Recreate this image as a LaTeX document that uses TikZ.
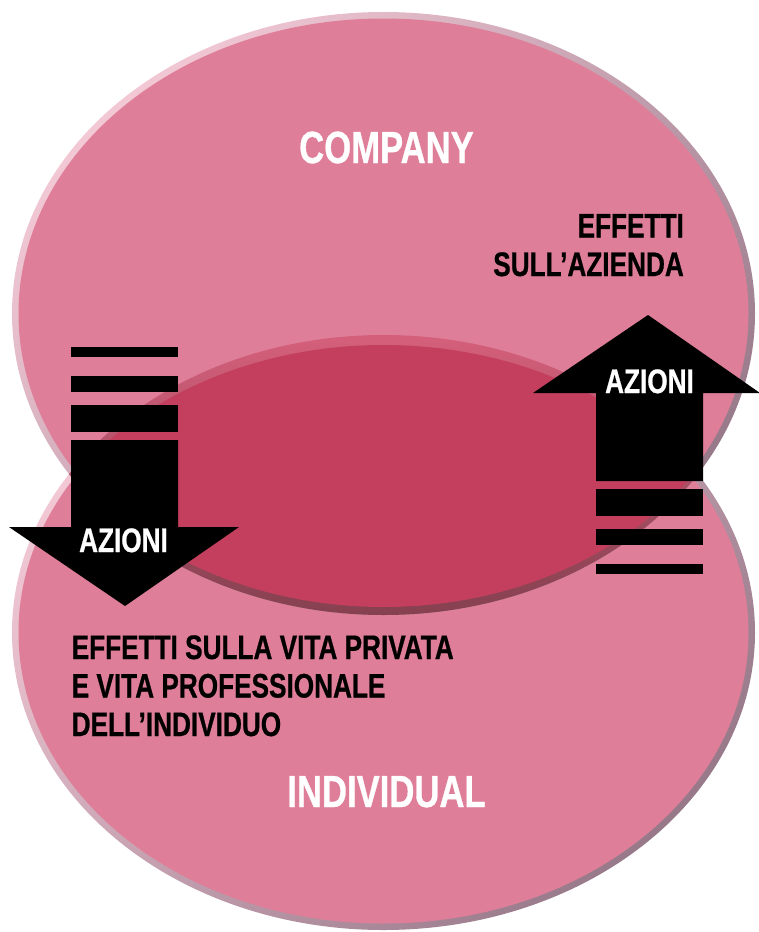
\documentclass[tikz,border=0pt]{standalone}
\usepackage{fontspec}
\setmainfont{Liberation Sans}[FakeStretch=0.77, BoldFeatures={FakeBold=0.7}]
\usepackage{tikz}
\usetikzlibrary{positioning}

\definecolor{Rose}{HTML}{DF7E99}
\definecolor{Wine}{HTML}{C43F5D}
\definecolor{RimLight}{HTML}{F2C8D5}
\definecolor{RimDark}{HTML}{97798A}
\definecolor{LensLight}{HTML}{D6607C}
\definecolor{LensDark}{HTML}{84404F}

\begin{document}
\begin{tikzpicture}[x=1pt,y=-1pt]
			\tikzstyle{Title}	= [white, font=\bfseries\fontsize{45}{50}\selectfont, inner sep=0pt, anchor=base]
			\tikzstyle{Effect}	= [black, font=\bfseries\fontsize{34}{38.5}\selectfont, inner sep=0pt]
			\tikzstyle{Action}	= [white, font=\bfseries\fontsize{34}{38}\selectfont, inner sep=0pt, anchor=base]
			\tikzstyle{Rim}		= [top color=RimLight, middle color=Rose, bottom color=RimDark, shading angle=45]
			\tikzstyle{Bar}		= [fill=black]

			\useasboundingbox (0,0) rectangle (758,932);

			% individual (bottom) and company (top)
			\shade[Rim] (383.5,632.5) ellipse [x radius=371.5, y radius=297.5];
			\fill[Rose] (383.5,632.5) ellipse [x radius=365, y radius=291];
			\shade[Rim] (383.5,313.5) ellipse [x radius=371.5, y radius=301.5];
			\fill[Rose] (383.5,313.5) ellipse [x radius=365, y radius=295];

			% overlap
			\begin{scope}
				\clip (383.5,313.5) ellipse [x radius=371.5, y radius=301.5];
				\clip (383.5,632.5) ellipse [x radius=371.5, y radius=297.5];
				\shade[top color=LensLight, bottom color=LensDark] (0,330) rectangle (758,620);
			\end{scope}
			\begin{scope}
				\clip (383.5,309.5) ellipse [x radius=371.5, y radius=297.5];
				\clip (383.5,637.5) ellipse [x radius=371.5, y radius=292.5];
				\fill[Wine] (0,330) rectangle (758,620);
			\end{scope}

			% arrows
			\fill (71,440) -- (178,440) -- (178,527) -- (239,527) -- (125,606) -- (9,527) -- (71,527) -- cycle;
			\foreach \a/\b in {347/357, 376/392, 405/432}
				\fill[Bar] (71,\a) rectangle (178,\b);
			\fill (596,481) -- (596,393) -- (533,393) -- (648,315) -- (760,393) -- (703,393) -- (703,481) -- cycle;
			\foreach \a/\b in {489/516, 529/545, 564/574}
				\fill[Bar] (596,\a) rectangle (703,\b);

			\node (company) at (386.5,163) [Title] {COMPANY};
			\node (individual) at (386.5,807) [Title] {INDIVIDUAL};
			\node (effAzienda) at (684,276) [Effect, anchor=base east, align=right] {EFFETTI\\SULL’AZIENDA};
			\node (effIndividuo) at (71.5,736) [Effect, anchor=base west, align=left] {EFFETTI SULLA VITA PRIVATA\\E VITA PROFESSIONALE\\DELL’INDIVIDUO};
			\node (actDown) at (123.5,552) [Action] {AZIONI};
			\node (actUp) at (649.5,393) [Action] {AZIONI};
\end{tikzpicture}
\end{document}
